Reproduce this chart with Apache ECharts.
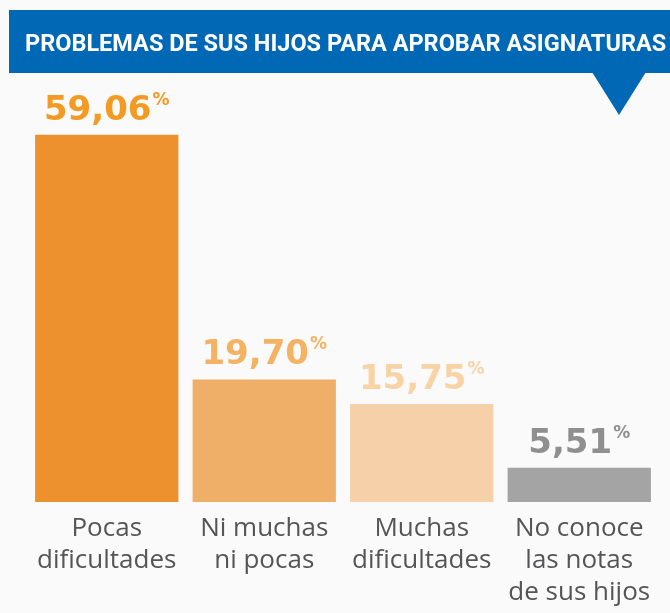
<!DOCTYPE html>
<html>
<head>
<meta charset="utf-8">
<script src="https://cdn.jsdelivr.net/npm/echarts@6/dist/echarts.min.js"></script>
<style>
  body { margin: 0; padding: 0; background: #fafafa; }
  #chart { width: 670px; height: 613px; }
</style>
</head>
<body>
<div id="chart"></div>
<script>
// data
var categories = ["Pocas\ndificultades", "Ni muchas\nni pocas", "Muchas\ndificultades", "No conoce\nlas notas\nde sus hijos"];
var values = [59.06, 19.70, 15.75, 5.51];

var barColors = ["#ec912e", "#f0af69", "#f6d0a9", "#a4a4a4"];
var labelColors = ["#f39a23", "#f4b263", "#f8d3a5", "#8f8f8f"];

var chart = echarts.init(document.getElementById("chart"));

var seriesData = values.map(function (v, i) {
  return {
    value: v,
    itemStyle: { color: barColors[i] },
    label: {
      rich: {
        v: { color: labelColors[i], fontSize: 34, fontWeight: "bold", fontFamily: "DejaVu Sans", lineHeight: 38 },
        p: { color: labelColors[i], fontSize: 17, fontWeight: "bold", fontFamily: "DejaVu Sans", lineHeight: 30, verticalAlign: "top", padding: [0, 0, 8, 1] }
      }
    }
  };
});

var option = {
  backgroundColor: "#fafafa",
  animation: false,
  title: {
    text: "PROBLEMAS DE SUS HIJOS PARA APROBAR ASIGNATURAS",
    left: 20,
    top: 28,
    textStyle: {
      color: "#ffffff",
      fontSize: 23.5,
      fontWeight: "bold",
      fontFamily: "Roboto"
    }
  },
  graphic: [
    {
      type: "rect",
      z: -1,
      shape: { x: 9, y: 10, width: 661, height: 63 },
      style: { fill: "#0068b4" }
    },
    {
      type: "polygon",
      z: -1,
      shape: { points: [[592, 72], [646, 72], [619, 115]] },
      style: { fill: "#0068b4" }
    }
  ],
  grid: { left: 28, right: 12, top: 129, bottom: 111 },
  xAxis: {
    type: "category",
    data: categories,
    axisLine: { show: false },
    axisTick: { show: false },
    axisLabel: {
      margin: 11,
      color: "#555557",
      fontSize: 26,
      lineHeight: 32,
      fontFamily: "Open Sans",
      verticalAlign: "top",
      interval: 0
    }
  },
  yAxis: {
    type: "value",
    min: 0,
    max: 60,
    show: false
  },
  series: [
    {
      type: "bar",
      data: seriesData,
      barCategoryGap: "9%",
      label: {
        show: true,
        position: "top",
        distance: 5,
        formatter: function (p) {
          return "{v|" + p.value.toFixed(2).replace(".", ",") + "}{p|%}";
        }
      }
    }
  ]
};

chart.setOption(option);
</script>
</body>
</html>
